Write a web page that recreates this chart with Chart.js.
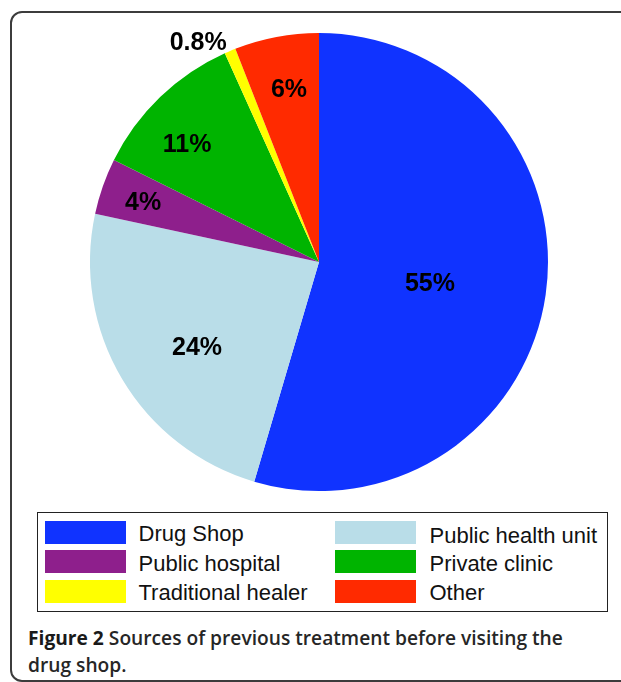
<!DOCTYPE html>
<html>
<head>
<meta charset="utf-8">
<script src="https://cdn.jsdelivr.net/npm/chart.js@4"></script>
<style>
    body { margin: 0; background: #fff; width: 621px; height: 682px; overflow: hidden; position: relative; }
    .frame { position: absolute; left: 10px; top: 11px; width: 640px; height: 671px;
             border: 2px solid #3c3c3c; border-radius: 12px; box-sizing: border-box; }
    .pie-wrap { position: absolute; left: 40px; top: 13px; width: 558px; height: 498px; }
    .legend { position: absolute; left: 37px; top: 512px; width: 571px; height: 100px;
              border: 1.5px solid #222; box-sizing: border-box;
              font-family: "Liberation Sans", Arial, sans-serif; font-size: 22px; color: #111; }
    .legend .item { position: absolute; height: 23px; }
    .legend .swatch { position: absolute; left: 0; top: 0; width: 81px; height: 23px; }
    .legend .txt { position: absolute; left: 94px; top: 0; line-height: 26px; white-space: nowrap; }
    .caption { position: absolute; left: 28px; top: 624px; width: 600px;
               font-family: "Open Sans", "Noto Sans", sans-serif; font-weight: 600; font-size: 19.2px;
               line-height: 27px; color: #262626; }
    .caption b { font-weight: 700; color: #1a1a1a; }
</style>
</head>
<body>
<div class="frame"></div>
<div class="pie-wrap"><canvas id="pie-chart" width="558" height="498"></canvas></div>
<div class="legend" id="legend"></div>
<div class="caption"><b>Figure 2</b> Sources of previous treatment before visiting the<br>drug shop.</div>
<script>
// data
const sources = ['Drug Shop', 'Public health unit', 'Public hospital', 'Private clinic', 'Traditional healer', 'Other'];
const shares = [55, 24, 4, 11, 0.8, 6];
const sliceColors = ['#1033ff', '#b9dde8', '#8e1f8c', '#00b400', '#ffff00', '#ff2a00'];

// legend slots (column order of the original key)
const legendOrder = [0, 1, 2, 3, 4, 5];

// where each % label sits: fraction of the radius, and turn (deg) off the slice middle
const labelDist = [0.494, 0.652, 0.81, 0.77, 1.09, 0.762];
const labelTurn = [3, -4.5, -0.8, -4.5, -6.1, 0.8];

const pctLabels = {
    id: 'pctLabels',
    afterDatasetsDraw(chart) {
        const ctx = chart.ctx;
        const meta = chart.getDatasetMeta(0);
        ctx.save();
        ctx.font = 'bold 25px "Liberation Sans", Arial, sans-serif';
        ctx.fillStyle = '#000';
        ctx.textAlign = 'center';
        ctx.textBaseline = 'middle';
        meta.data.forEach((arc, i) => {
            const mid = (arc.startAngle + arc.endAngle) / 2 + labelTurn[i] * Math.PI / 180;
            const r = arc.outerRadius * labelDist[i];
            const x = arc.x + Math.cos(mid) * r;
            const y = arc.y + Math.sin(mid) * r;
            ctx.fillText(shares[i] + '%', x, y);
        });
        ctx.restore();
    }
};

new Chart(document.getElementById('pie-chart'), {
    type: 'pie',
    data: {
        labels: sources,
        datasets: [{
            data: shares,
            backgroundColor: sliceColors,
            borderWidth: 0
        }]
    },
    options: {
        responsive: false,
        animation: false,
        layout: { padding: { top: 20, bottom: 20, left: 50, right: 50 } },
        plugins: {
            legend: { display: false },
            tooltip: { enabled: false }
        }
    },
    plugins: [pctLabels]
});

// key below the pie, two columns
const legend = document.getElementById('legend');
legendOrder.forEach((idx, n) => {
    const col = n % 2, row = Math.floor(n / 2);
    const item = document.createElement('div');
    item.className = 'item';
    item.style.left = (col ? 296.5 : 6.5) + 'px';
    item.style.top = (7.5 + row * 29.5) + 'px';
    item.innerHTML = '<div class="swatch" style="background:' + sliceColors[idx] + '"></div>' +
        '<div class="txt" style="left:' + (col ? 95 : 94) + 'px;top:' + (col && row === 0 ? 2.5 : 0.5) + 'px">' +
        sources[idx] + '</div>';
    legend.appendChild(item);
});
</script>
</body>
</html>
